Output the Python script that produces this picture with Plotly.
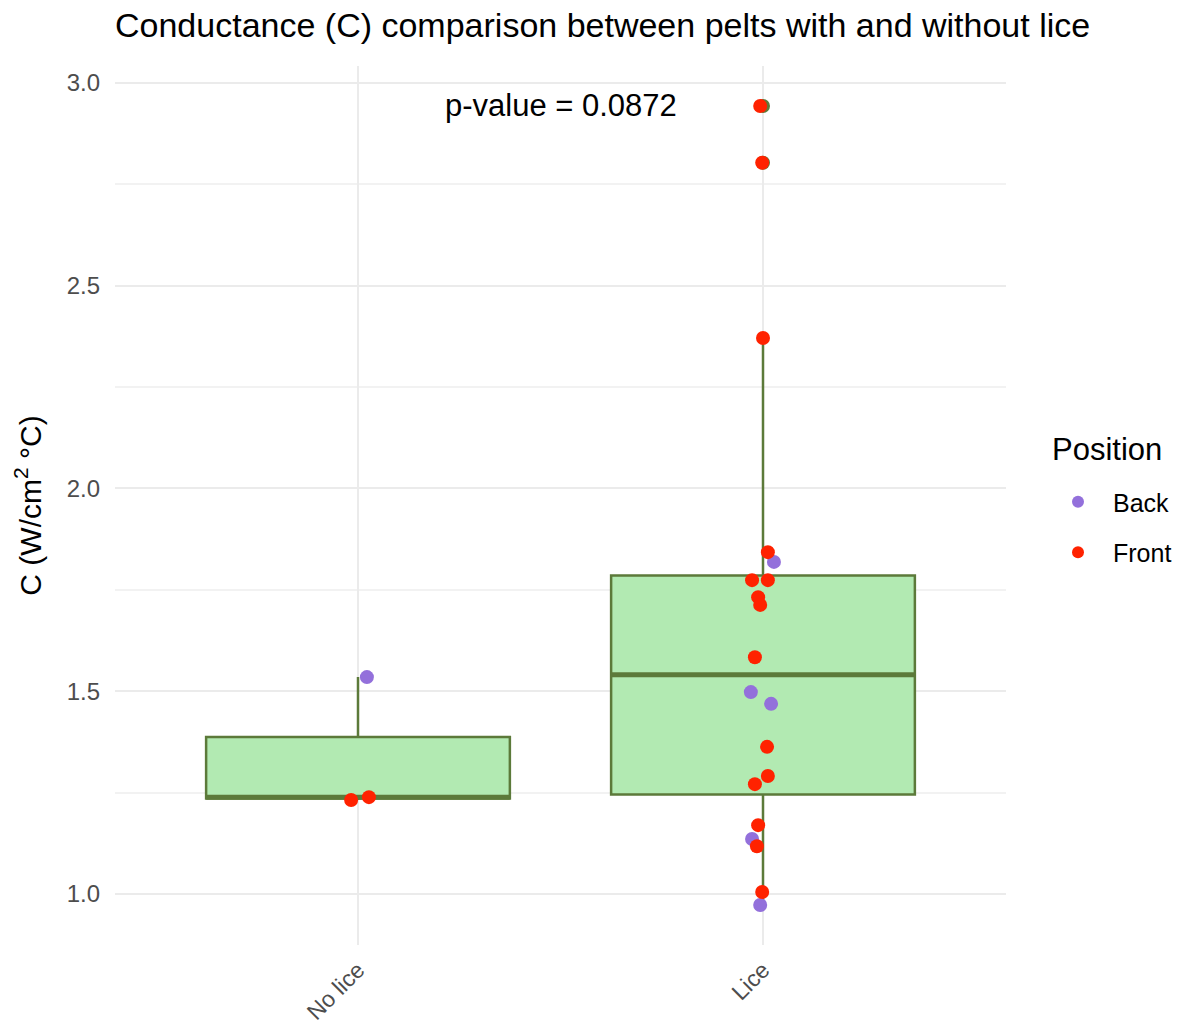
import numpy as np
import plotly.graph_objects as go

# ---- data ----
categories = ["No lice", "Lice"]
positions = ["Back", "Front"]

nolice_back = [1.535]
nolice_back_jit = [0.022]
nolice_front = [1.232, 1.239]
nolice_front_jit = [-0.017, 0.027]

lice_back = [1.819, 1.498, 1.469, 1.136, 0.973]
lice_back_jit = [0.027, -0.030, 0.020, -0.027, -0.007]
lice_front = [2.943, 2.803, 2.371, 1.843, 1.774, 1.774, 1.732, 1.713, 1.584,
              1.363, 1.291, 1.271, 1.170, 1.118, 1.005]
lice_front_jit = [-0.007, -0.002, 0.0, 0.012, -0.027, 0.012, -0.012, -0.007, -0.020,
                  0.010, 0.012, -0.020, -0.012, -0.015, -0.002]

p_value_text = "p-value = 0.0872"
legend_title = "Position"
y_ticks = [1.0, 1.5, 2.0, 2.5, 3.0]

# ---- styles ----
FONT = "Liberation Sans, Arial, Helvetica, sans-serif"
col_back = "#9370DB"
col_front = "#FF2200"
box_fill = "#B2EAB2"
box_line = "#5C7A3A"
grid = "#EBEBEB"

groups = {
    "No lice": (nolice_back, nolice_front, nolice_back_jit, nolice_front_jit),
    "Lice": (lice_back, lice_front, lice_back_jit, lice_front_jit),
}

fig = go.Figure()
box_w = 0.75

all_vals = []
for i, cat in enumerate(categories):
    pos = i + 1
    b, f, _, _ = groups[cat]
    vals = np.array(b + f, dtype=float)
    all_vals.extend(vals.tolist())
    q1, med, q3 = np.percentile(vals, [25, 50, 75])
    iqr = q3 - q1
    lo_lim, hi_lim = q1 - 1.5 * iqr, q3 + 1.5 * iqr
    inside = vals[(vals >= lo_lim) & (vals <= hi_lim)]
    outl = vals[(vals < lo_lim) | (vals > hi_lim)]
    fig.add_trace(go.Box(
        x=[pos], q1=[q1], median=[med], q3=[q3],
        lowerfence=[inside.min()], upperfence=[inside.max()],
        width=box_w, whiskerwidth=0, fillcolor=box_fill,
        line=dict(color=box_line, width=2.5), showlegend=False, hoverinfo="skip",
    ))
    fig.add_trace(go.Scatter(
        x=[pos - box_w / 2, pos + box_w / 2], y=[med, med], mode="lines",
        line=dict(color=box_line, width=5), showlegend=False, hoverinfo="skip",
    ))
    if len(outl):
        fig.add_trace(go.Scatter(
            x=[pos] * len(outl), y=outl, mode="markers",
            marker=dict(color=box_line, size=14), showlegend=False, hoverinfo="skip",
        ))

# jittered points
for posname, color in zip(positions, [col_back, col_front]):
    xs, ys = [], []
    for i, cat in enumerate(categories):
        b, f, bj, fj = groups[cat]
        vals, jit = (b, bj) if posname == "Back" else (f, fj)
        xs.extend([i + 1 + j for j in jit])
        ys.extend(vals)
    fig.add_trace(go.Scatter(
        x=xs, y=ys, mode="markers", name=posname, legendgroup=posname,
        marker=dict(color=color, size=14, line=dict(width=0)),
    ))

ymin, ymax = min(all_vals), max(all_vals)
pad = 0.05 * (ymax - ymin)

fig.add_annotation(
    x=1.5, y=ymax, text=p_value_text, showarrow=False,
    font=dict(family=FONT, size=31, color="#000000"), xanchor="center", yanchor="middle",
)
fig.add_annotation(
    x=(1050 - 115) / 891, y=(945 - 450) / 879, xref="paper", yref="paper",
    text=legend_title, showarrow=False, xanchor="left", yanchor="middle",
    font=dict(family=FONT, size=31, color="#000000"),
)

fig.update_layout(
    width=1184, height=1025,
    paper_bgcolor="white", plot_bgcolor="white",
    margin=dict(l=115, r=178, t=66, b=80, autoexpand=False),
    font=dict(family=FONT),
    title=dict(
        text="Conductance (C) comparison between pelts with and without lice",
        x=115 / 1184, xref="container", xanchor="left",
        y=1 - 25 / 1025, yref="container", yanchor="middle",
        font=dict(family=FONT, size=34, color="#000000"),
    ),
    xaxis=dict(
        range=[0.4, 2.6], tickmode="array", tickvals=[1, 2], ticktext=categories,
        tickangle=-45, showgrid=True, gridcolor=grid, gridwidth=2,
        zeroline=False, showline=False, ticks="", ticklabelstandoff=6,
        tickfont=dict(family=FONT, size=23, color="#4D4D4D"),
    ),
    yaxis=dict(
        range=[ymin - pad, ymax + pad], tickmode="array", tickvals=y_ticks,
        ticktext=[f"{v:.1f}" for v in y_ticks],
        showgrid=True, gridcolor=grid, gridwidth=2, zeroline=False, showline=False,
        ticks="", ticklabelstandoff=14,
        tickfont=dict(family=FONT, size=24, color="#4D4D4D"),
        minor=dict(tickmode="array", tickvals=[0.75, 1.25, 1.75, 2.25, 2.75],
                   showgrid=True, gridcolor="#F2F2F2", gridwidth=1.5),
        title=dict(text="C (W/cm<sup>2</sup> °C)", standoff=16,
                   font=dict(family=FONT, size=30, color="#000000")),
        automargin=False,
    ),
    legend=dict(
        x=(1043 - 115) / 891, y=(945 - 479) / 879, xanchor="left", yanchor="top",
        font=dict(family=FONT, size=25, color="#000000"),
        itemsizing="constant", itemwidth=60, traceorder="grouped",
        tracegroupgap=15, bgcolor="rgba(0,0,0,0)",
    ),
)

fig.write_html("out.html")
